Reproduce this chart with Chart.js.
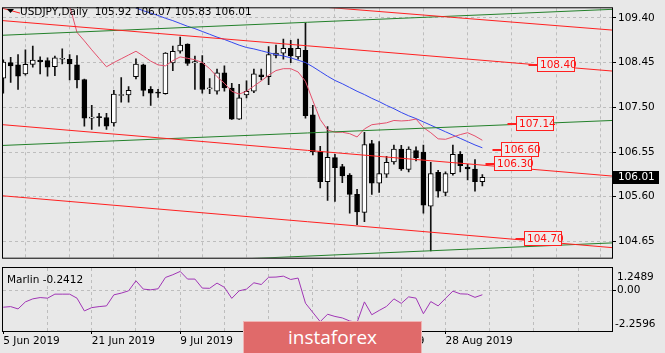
<!DOCTYPE html>
<html>
<head>
<meta charset="utf-8">
<script src="https://cdn.jsdelivr.net/npm/chart.js@4.4.0/dist/chart.umd.min.js"></script>
<style>
  html, body { margin: 0; padding: 0; background: #e8e8e8; }
  #wrap { position: relative; width: 665px; height: 353px; overflow: hidden; }
  canvas { position: absolute; left: 0; }
  #main { top: 0; }
  #sub { top: 267px; }
  #badge {
    position: absolute; left: 243px; top: 321px; width: 179px; height: 34px;
    background: #e06a6a; border: 1px solid #f0b4b4; box-sizing: border-box;
    color: #fff; font: 19px "Open Sans", sans-serif; text-align: center; line-height: 31px;
  }
</style>
</head>
<body>
<div id="wrap">
  <canvas id="main" width="665" height="266"></canvas>
  <canvas id="sub" width="665" height="86"></canvas>
  <div id="badge">instaforex</div>
</div>
<script>
const symbol = "USDJPY";
const period = "Daily";

// daily bars, 5 Jun 2019 .. 4 Sep 2019
const opens = [108.12,108.45,108.40,108.21,108.41,108.50,108.49,108.36,108.52,108.52,
  108.40,108.09,107.27,107.29,107.28,107.17,107.75,107.76,108.15,108.40,
  107.88,107.81,107.79,108.44,108.69,108.84,108.44,108.44,107.89,107.84,
  108.23,107.91,107.25,107.76,107.84,108.19,108.15,108.60,108.65,108.75,
  108.57,108.71,107.34,106.56,105.92,106.43,106.24,106.06,105.65,105.27,
  106.73,105.89,106.08,106.34,106.61,106.18,106.58,106.55,105.40,106.12,
  105.69,106.09,106.50,106.23,106.19,105.92];
const highs = [108.51,108.56,108.62,108.72,108.80,108.57,108.55,108.59,108.74,108.62,
  108.60,108.10,107.54,107.37,107.37,107.86,108.13,107.94,108.53,108.42,
  107.94,107.88,108.66,108.80,108.99,108.85,108.59,108.60,108.11,108.31,
  108.38,108.01,107.99,108.06,108.31,108.31,108.79,108.82,108.95,108.92,
  108.95,109.29,107.54,106.67,107.09,106.50,106.29,106.09,105.76,106.97,
  106.80,106.77,106.46,106.70,106.69,106.66,106.66,106.70,106.33,106.16,
  106.13,106.70,106.56,106.29,106.39,106.07];
const lows = [107.80,108.03,107.88,108.18,108.35,108.21,108.16,108.17,108.42,108.08,
  107.91,107.10,107.03,107.10,107.03,107.10,107.61,107.61,108.10,107.74,
  107.54,107.71,107.78,108.28,108.65,108.39,107.88,107.80,107.79,107.78,
  107.84,107.24,107.24,107.70,107.81,108.08,107.98,108.55,108.52,108.45,
  108.52,107.27,106.49,105.79,105.52,105.50,105.90,105.25,105.01,105.07,
  105.65,105.69,106.01,106.29,106.16,106.13,106.36,105.25,104.45,105.59,
  105.62,106.06,106.13,105.96,105.72,105.83];
const closes = [108.46,108.38,108.16,108.41,108.50,108.47,108.35,108.55,108.53,108.42,
  108.08,107.27,107.28,107.28,107.10,107.78,107.76,107.86,108.42,107.86,
  107.80,107.80,108.65,108.69,108.82,108.43,108.47,107.88,107.90,108.23,
  107.91,107.25,107.70,107.84,108.21,108.15,108.62,108.65,108.75,108.59,
  108.75,107.32,106.56,105.92,106.44,106.22,106.04,105.65,105.28,106.71,
  105.89,106.09,106.33,106.61,106.19,106.61,106.43,105.42,106.09,105.72,
  106.09,106.50,106.26,106.19,105.92,106.01];

// pink (fast) and blue (slow) averages, null where off the chart
const fastMa = [null,null,null,null,null,null,null,null,null,109.66,
  109.09,108.91,108.72,108.54,108.36,108.45,108.53,108.61,108.69,108.59,
  108.48,108.40,108.38,108.49,108.57,108.54,108.51,108.45,108.32,108.15,
  108.01,107.84,107.78,107.84,107.95,108.06,108.18,108.28,108.32,108.32,
  108.25,108.05,107.64,107.24,107.02,106.97,106.97,106.94,106.87,107.04,
  107.13,107.15,107.17,107.22,107.21,107.22,107.25,107.07,106.96,106.83,
  106.82,106.87,106.92,106.96,106.89,106.80];
const slowMa = [null,null,null,null,null,null,null,null,null,null,
  null,null,null,null,null,null,null,109.66,109.61,109.55,
  109.50,109.45,109.39,109.34,109.28,109.22,109.17,109.11,109.05,108.99,
  108.94,108.88,108.82,108.77,108.74,108.70,108.66,108.62,108.59,108.55,
  108.50,108.45,108.36,108.26,108.16,108.07,108.00,107.92,107.84,107.77,
  107.69,107.62,107.54,107.47,107.39,107.32,107.26,107.19,107.12,107.05,
  106.98,106.91,106.84,106.77,106.70,106.64];

const marlin = [-0.935,-0.901,-1.030,-0.638,-0.470,-0.397,-0.431,-0.207,-0.207,-0.207,
  -0.431,-1.142,-0.957,-0.901,-0.862,-0.246,-0.151,-0.022,0.537,0.073,
  0.034,0.090,0.722,0.873,1.058,0.632,0.632,0.129,0.118,0.409,
  0.173,-0.442,-0.022,0.073,0.425,0.330,0.733,0.744,0.795,0.610,
  0.688,-0.711,-1.226,-1.740,-1.326,-1.449,-1.533,-1.701,-1.785,-0.638,
  -1.354,-1.114,-0.890,-0.470,-0.722,-0.358,-0.431,-1.298,-0.621,-0.862,
  -0.442,-0.039,-0.190,-0.207,-0.386,-0.2412];

const priceTicks = [104.65, 105.60, 106.55, 107.50, 108.45, 109.40];
const marlinTicks = [-2.2596, 0, 1.2489];
const dateBars = [0, 12, 24, 36, 48, 60];
const dateLabels = ["5 Jun 2019", "21 Jun 2019", "9 Jul 2019", "25 Jul 2019", "12 Aug 2019", "28 Aug 2019"];

// trend lines as [bar, price] at each end
const redLines = [
  [[-0.04, 110.17], [82.59, 109.14]],
  [[-0.04, 109.34], [82.59, 108.27]],
  [[-0.04, 107.13], [82.59, 106.04]],
  [[-0.04, 105.62], [82.59, 104.52]],
  [[-0.04, 109.60], [2.27, 109.50]]
];
const greenLines = [
  [[-0.04, 109.03], [82.59, 109.58]],
  [[-0.04, 106.69], [82.59, 107.22]],
  [[-0.04, 104.06], [82.59, 104.62]]
];

// price tags on the right
const tagPrices = [108.40, 107.14, 106.60, 106.30, 104.70];
const tagBars = [72.4, 69.6, 67.5, 66.6, 70.6];

const xMin = -0.04, xMax = 82.59;
const yMin = 104.306, yMax = 109.602;
const last = closes.length - 1;
const gridBars = [];
for (let b = 6; b < xMax; b += 6) gridBars.push(b);

Chart.defaults.font.family = "DejaVu Sans";
Chart.defaults.font.size = 10.5;
Chart.defaults.color = "#000";

const FONT = '10.5px "DejaVu Sans"';
const GRID = "#bdbdbd";
const NONE = "rgba(0,0,0,0)";

function frame(ctx, a) {
    ctx.save();
    ctx.strokeStyle = "#000";
    ctx.lineWidth = 1;
    ctx.strokeRect(a.left - 0.5, a.top - 0.5, a.right - a.left + 1, a.bottom - a.top + 1);
    ctx.restore();
}

const mainDecor = {
    id: "mainDecor",
    beforeDatasetsDraw(chart) {
        const { ctx, chartArea: a, scales: { y } } = chart;
        const py = Math.round(y.getPixelForValue(closes[last])) + 0.5;
        ctx.save();
        ctx.strokeStyle = "#c6c6c6";
        ctx.beginPath();
        ctx.moveTo(a.left, py);
        ctx.lineTo(a.right, py);
        ctx.stroke();
        ctx.restore();
    },
    afterDraw(chart) {
        const { ctx, chartArea: a, scales: { x, y } } = chart;
        frame(ctx, a);
        ctx.save();
        ctx.font = FONT;
        ctx.textBaseline = "middle";

        // tags
        tagPrices.forEach((p, k) => {
            const bx = Math.round(x.getPixelForValue(tagBars[k])) + 0.5;
            const by = Math.round(y.getPixelForValue(p));
            ctx.strokeStyle = "#ff2020";
            ctx.lineWidth = 2;
            ctx.beginPath();
            ctx.moveTo(bx - 9, by);
            ctx.lineTo(bx, by);
            ctx.stroke();
            ctx.lineWidth = 1;
            ctx.fillStyle = "#ececec";
            ctx.fillRect(bx, by - 7.5, 37, 14);
            ctx.strokeRect(bx, by - 7.5, 37, 14);
            ctx.fillStyle = "#ff1010";
            ctx.textAlign = "left";
            ctx.fillText(p.toFixed(2), bx + 2.5, by);
        });

        // current price box
        const py = Math.round(y.getPixelForValue(closes[last]));
        ctx.fillStyle = "#000";
        ctx.fillRect(a.right + 1, py - 6, 46, 13);
        ctx.fillStyle = "#fff";
        ctx.fillText(closes[last].toFixed(2), a.right + 6, py + 0.5);

        // title
        ctx.fillStyle = "#000";
        ctx.beginPath();
        ctx.moveTo(7, 9);
        ctx.lineTo(14, 9);
        ctx.lineTo(10.5, 13);
        ctx.closePath();
        ctx.fill();
        ctx.textBaseline = "alphabetic";
        const ohlc = [opens[last], highs[last], lows[last], closes[last]].map(v => v.toFixed(2)).join(" ");
        ctx.fillText(symbol + "," + period + "  " + ohlc, 20, 15);
        ctx.restore();
    }
};

const idx = opens.map((_, i) => i);
const lineSet = (pts, color) => ({
    type: "line",
    data: pts.map(p => ({ x: p[0], y: p[1] })),
    borderColor: color, borderWidth: 1, pointRadius: 0, tension: 0
});

new Chart(document.getElementById("main"), {
    type: "bar",
    data: {
        datasets: [
            ...redLines.map(l => lineSet(l, "#ff2020")),
            ...greenLines.map(l => lineSet(l, "#23802a")),
            {
                type: "line",
                data: idx.map(i => ({ x: i, y: fastMa[i] })),
                borderColor: "#e4506c", borderWidth: 1, pointRadius: 0, tension: 0
            },
            {
                type: "line",
                data: idx.map(i => ({ x: i, y: slowMa[i] })),
                borderColor: "#3447ee", borderWidth: 1, pointRadius: 0, tension: 0
            },
            {
                data: idx.map(i => ({ x: i, y: [opens[i], closes[i]] })),
                backgroundColor: idx.map(i => closes[i] >= opens[i] ? "#fff" : "#000"),
                borderColor: "#000", borderWidth: 1, borderSkipped: false,
                barThickness: 5, minBarLength: 1, grouped: false
            },
            {
                data: idx.map(i => ({ x: i, y: [lows[i], highs[i]] })),
                backgroundColor: "#111", barThickness: 1, grouped: false
            }
        ]
    },
    options: {
        responsive: false, animation: false, devicePixelRatio: 1, events: [],
        layout: { padding: { left: 3, top: 3, right: 0, bottom: 1 } },
        plugins: { legend: { display: false }, tooltip: { enabled: false } },
        scales: {
            x: {
                type: "linear", min: xMin, max: xMax, offset: false,
                afterBuildTicks: s => { s.ticks = gridBars.map(v => ({ value: v })); },
                afterFit: s => { s.height = 0; },
                ticks: { display: false },
                grid: { color: GRID, drawTicks: false },
                border: { display: false, dash: [3, 3] }
            },
            y: {
                type: "linear", position: "right", min: yMin, max: yMax,
                afterBuildTicks: s => { s.ticks = priceTicks.map(v => ({ value: v })); },
                afterFit: s => { s.width = 53; },
                ticks: { padding: 2, callback: v => v.toFixed(2) },
                grid: { color: GRID, tickColor: "#000", tickLength: 4, tickBorderDash: [] },
                border: { display: false, dash: [3, 3] }
            }
        }
    },
    plugins: [mainDecor]
});

const subDecor = {
    id: "subDecor",
    afterDraw(chart) {
        const { ctx, chartArea: a, scales: { y } } = chart;
        frame(ctx, a);
        ctx.save();
        ctx.font = FONT;
        ctx.fillStyle = "#000";
        ctx.textBaseline = "alphabetic";
        ctx.fillText("Marlin " + marlin[last].toFixed(4), 7, 16);
        ctx.textBaseline = "middle";
        ctx.fillText(marlinTicks[2].toFixed(4), 617, a.top + 9);
        ctx.fillText(marlinTicks[1].toFixed(2), 617, y.getPixelForValue(0));
        ctx.fillText(marlinTicks[0].toFixed(4), 615, a.bottom - 6.5);
        ctx.restore();
    }
};

new Chart(document.getElementById("sub"), {
    type: "line",
    data: {
        datasets: [{
            data: idx.map(i => ({ x: i, y: marlin[i] })),
            borderColor: "#a035b5", borderWidth: 1, pointRadius: 0, tension: 0
        }]
    },
    options: {
        responsive: false, animation: false, devicePixelRatio: 1, events: [],
        layout: { padding: { left: 3, top: 1, right: 0, bottom: 0 } },
        plugins: { legend: { display: false }, tooltip: { enabled: false } },
        scales: {
            x: {
                type: "linear", min: xMin, max: xMax, offset: false,
                afterBuildTicks: s => { s.ticks = [0, ...gridBars].map(v => ({ value: v })); },
                afterFit: s => { s.height = 22; },
                ticks: {
                    align: "start", padding: 1, maxRotation: 0, autoSkip: false,
                    callback: v => { const k = dateBars.indexOf(v); return k < 0 ? "" : dateLabels[k]; }
                },
                grid: {
                    color: c => (c.tick && c.tick.value === 0) ? NONE : GRID,
                    tickColor: c => (c.tick && dateBars.includes(c.tick.value)) ? "#000" : NONE,
                    tickLength: 3, tickBorderDash: []
                },
                border: { display: false, dash: [3, 3] }
            },
            y: {
                type: "linear", position: "right", min: marlinTicks[0], max: marlinTicks[2],
                afterBuildTicks: s => { s.ticks = marlinTicks.map(v => ({ value: v })); },
                afterFit: s => { s.width = 53; },
                ticks: { display: false },
                grid: {
                    color: c => (c.tick && c.tick.value === 0) ? GRID : NONE,
                    tickColor: c => (c.tick && c.tick.value === 0) ? "#000" : NONE,
                    tickLength: 4, tickBorderDash: []
                },
                border: { display: false, dash: [3, 3] }
            }
        }
    },
    plugins: [subDecor]
});
</script>
</body>
</html>
